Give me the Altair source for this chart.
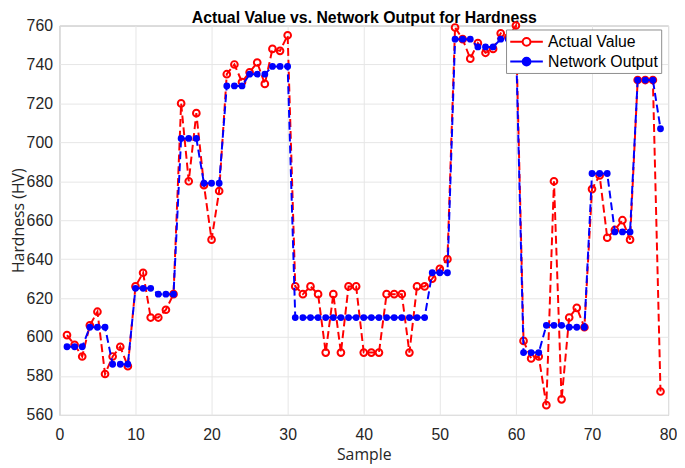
import altair as alt
import pandas as pd

samples = list(range(1, 80))
actual = [601, 596, 590, 606, 613, 581, 590, 595, 585, 626,
          633, 610, 610, 614, 622, 720, 680, 715, 678, 650,
          675, 735, 740, 731, 736, 741, 730, 748, 747, 755,
          626, 622, 626, 622, 592, 622, 592, 626, 626, 592,
          592, 592, 622, 622, 622, 592, 626, 626, 630, 635,
          640, 759, 753, 743, 751, 746, 748, 756, 754, 760,
          598, 589, 590, 565, 680, 568, 610, 615, 605, 676,
          683, 651, 655, 660, 650, 732, 732, 732, 572]
network = [595, 595, 595, 605, 605, 605, 586, 586, 586, 625,
           625, 625, 622, 622, 622, 702, 702, 702, 679, 679,
           679, 729, 729, 729, 735, 735, 735, 739, 739, 739,
           610, 610, 610, 610, 610, 610, 610, 610, 610, 610,
           610, 610, 610, 610, 610, 610, 610, 610, 633, 633,
           633, 753, 753, 753, 749, 749, 749, 753, 753, 753,
           592, 592, 592, 606, 606, 606, 605, 605, 605, 684,
           684, 684, 654, 654, 654, 732, 732, 732, 707]
series_names = ["Actual Value", "Network Output"]
series_colors = ["#ff0000", "#0000ff"]
series_fills = ["transparent", "#0000ff"]
x_ticks = list(range(0, 81, 10))
y_ticks = list(range(560, 761, 20))
chart_title = "Actual Value vs. Network Output for Hardness"

df = pd.concat([
    pd.DataFrame({"Sample": samples, "Value": actual, "Series": series_names[0]}),
    pd.DataFrame({"Sample": samples, "Value": network, "Series": series_names[1]}),
])

TICK_FONT = "Liberation Sans"
TITLE_FONT = "Open Sans"

x_scale = alt.Scale(domain=[0, 80], nice=False)
x_axis_enc = alt.X(
    "Sample:Q", scale=x_scale,
    axis=alt.Axis(orient="bottom", values=x_ticks, title="Sample", labelFont=TICK_FONT,
                  labelFontSize=16, labelColor="#262626", labelPadding=12, labelFlush=False,
                  ticks=False, domain=False, grid=True, gridColor="#e6e6e6",
                  titleFont=TITLE_FONT, titleFontSize=16, titleFontWeight="normal",
                  titleColor="#262626", titleX=308, titleY=40, titleBaseline="middle"),
)
x_plain = alt.X("Sample:Q", scale=x_scale, axis=None)
x_top = alt.X(
    "Sample:Q", scale=x_scale,
    axis=alt.Axis(orient="top", title=chart_title, labels=False, ticks=False, domain=False,
                  grid=False, titleFont=TICK_FONT, titleFontSize=16, titleFontWeight="bold",
                  titleColor="#000000", titleX=308, titleY=-3, titleBaseline="alphabetic",
                  titleAlign="center"),
)
y_enc = alt.Y(
    "Value:Q",
    scale=alt.Scale(domain=[560, 760], nice=False, zero=False),
    axis=alt.Axis(values=y_ticks, title="Hardness (HV)", labelFont=TICK_FONT, labelFontSize=16,
                  labelColor="#262626", labelPadding=7, labelFlush=False, ticks=False,
                  domain=False, grid=True, gridColor="#e6e6e6", titleFont=TITLE_FONT,
                  titleFontSize=16, titleFontWeight="normal", titleColor="#262626",
                  titleX=-41, titleY=197, titleAngle=-90, titleBaseline="middle"),
)

SYMBOL_PATH = ("M-1,0H0.52 M1.48,0A0.48,0.48,0,1,1,0.52,0A0.48,0.48,0,1,1,1.48,0 "
               "M1.48,0H3")

legend = alt.Legend(
    title=None, orient="none", legendX=452, legendY=4,
    symbolType=SYMBOL_PATH, symbolSize=272, symbolStrokeWidth=2, symbolOpacity=1,
    labelFont=TICK_FONT, labelFontSize=16, labelColor="#000000", labelOffset=20.5,
    padding=3, rowPadding=2, strokeColor="#8c8c8c", fillColor="white",
)

stroke_enc = alt.Stroke("Series:N",
                        scale=alt.Scale(domain=series_names, range=series_colors),
                        legend=legend)
fill_enc = alt.Fill("Series:N",
                    scale=alt.Scale(domain=series_names, range=series_fills),
                    legend=legend)

src = alt.Chart(df)
sel_a = alt.datum.Series == series_names[0]
sel_b = alt.datum.Series == series_names[1]

line_a = src.transform_filter(sel_a).mark_line(
    strokeDash=[8, 4], strokeWidth=2, color=series_colors[0]).encode(x=x_axis_enc, y=y_enc)
pts_a = src.transform_filter(sel_a).mark_point(
    shape="circle", filled=True, size=46, strokeWidth=2, opacity=1).encode(
    x=x_plain, y=y_enc, stroke=stroke_enc, fill=fill_enc)
line_b = src.transform_filter(sel_b).mark_line(
    strokeDash=[8, 4], strokeWidth=2, color=series_colors[1]).encode(x=x_plain, y=y_enc)
pts_b = src.transform_filter(sel_b).mark_point(
    shape="circle", filled=True, size=24, strokeWidth=2, opacity=1).encode(
    x=x_plain, y=y_enc, stroke=stroke_enc, fill=fill_enc)
title_layer = src.mark_point(opacity=0).encode(x=x_top, y=y_enc)

chart = alt.layer(line_a, pts_a, line_b, pts_b, title_layer).resolve_axis(
    x="independent"
).properties(
    width=616, height=394,
    autosize=alt.AutoSizeParams(type="none"),
    padding={"left": 52, "top": 15, "right": 9, "bottom": 51},
).configure_view(stroke="#a6a6a6", strokeWidth=1)

chart.save("out.html", embed_options={"renderer": "svg", "actions": False})
